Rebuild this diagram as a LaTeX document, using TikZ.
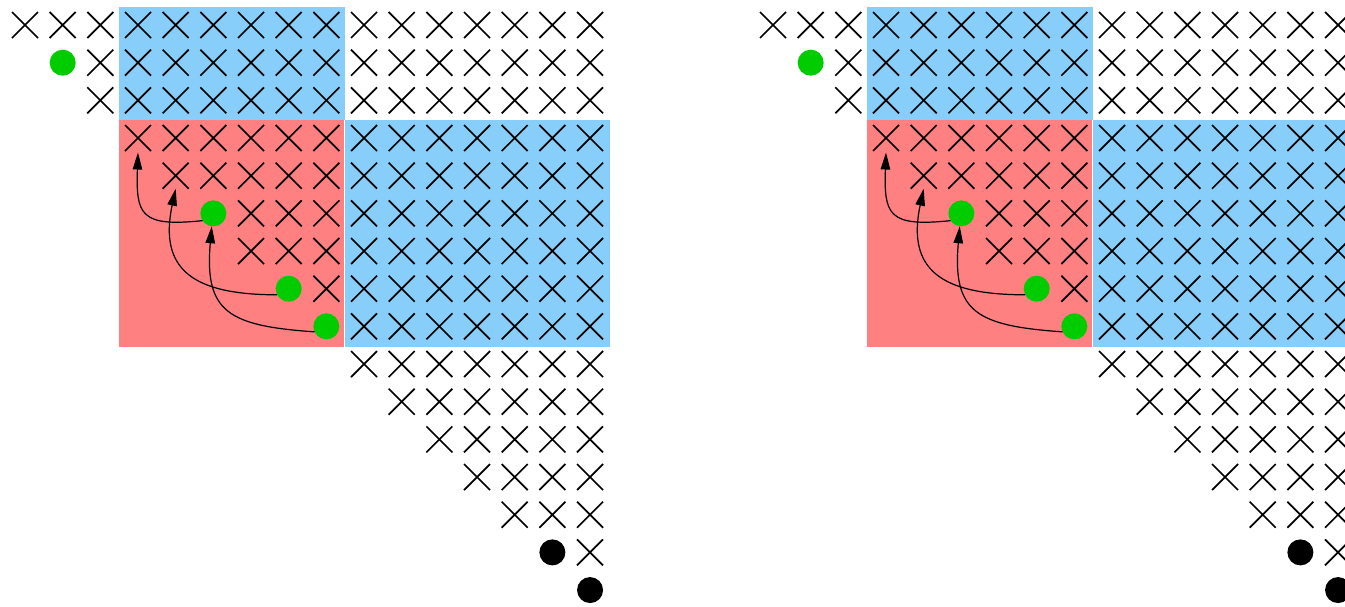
\documentclass[tikz,border=0pt]{standalone}
\usetikzlibrary{shapes.misc,arrows.meta}
\definecolor{cellblue}{RGB}{135,206,250}
\definecolor{cellred}{RGB}{255,128,128}
\definecolor{dotgreen}{RGB}{0,204,0}
\tikzset{
  xmark/.style={cross out, draw=black, line width=1.7pt, minimum size=26pt, inner sep=0pt, outer sep=0pt},
  gdot/.style={circle, fill=dotgreen, minimum size=26pt, inner sep=0pt, outer sep=0pt},
  bdot/.style={circle, fill=black, minimum size=26pt, inner sep=0pt, outer sep=0pt},
  arr/.style={-{Triangle[length=17pt,width=9.5pt]}, line width=1.2pt, draw=black},
}
\newcommand{\drawdiagram}[1]{%
  \fill[cellblue] (119.2,-6.5) rectangle (345.2,-119.8);
  \fill[cellred] (119.2,-119.8) rectangle (343.6,-346.6);
  \fill[cellblue] (345.2,-119.8) rectangle (609.5,-346.6);
  \foreach \j in {0,...,14}{%
    \pgfmathtruncatemacro{\jn}{\j+1}%
    \foreach \i in {\jn,...,15}{%
      \node[xmark] (#1-\j-\i) at ({25+37.67*\i},{-25-37.67*\j}) {};
    }%
  }%
  \foreach \k in {0,2,3,4,6,9,10,11,12,13}{%
    \node[xmark] (#1-\k-\k) at ({25+37.67*\k},{-25-37.67*\k}) {};
  }%
  \foreach \k in {1,5,7,8}{%
    \node[gdot] (#1-\k-\k) at ({25+37.67*\k},{-25-37.67*\k}) {};
  }%
  \foreach \k in {14,15}{%
    \node[bdot] (#1-\k-\k) at ({25+37.67*\k},{-25-37.67*\k}) {};
  }%
  \draw[arr] (#1-5-5.214) to[out=186,in=-92,looseness=1.7] ([yshift=-1.5pt]#1-3-3.south);
  \draw[arr] (#1-7-7.208) to[out=180,in=-102,looseness=1.45] (#1-4-4.south);
  \draw[arr] (#1-8-8.205) to[out=176,in=-95,looseness=1.5] (#1-5-5.-97);
}
\begin{document}
\begin{tikzpicture}[x=1pt,y=1pt]
  \useasboundingbox (0,0) rectangle (1345,-606);
  \clip (0,0) rectangle (1345,-606);
  \drawdiagram{L}
  \begin{scope}[shift={(748,0)}]
    \drawdiagram{R}
  \end{scope}
\end{tikzpicture}
\end{document}
